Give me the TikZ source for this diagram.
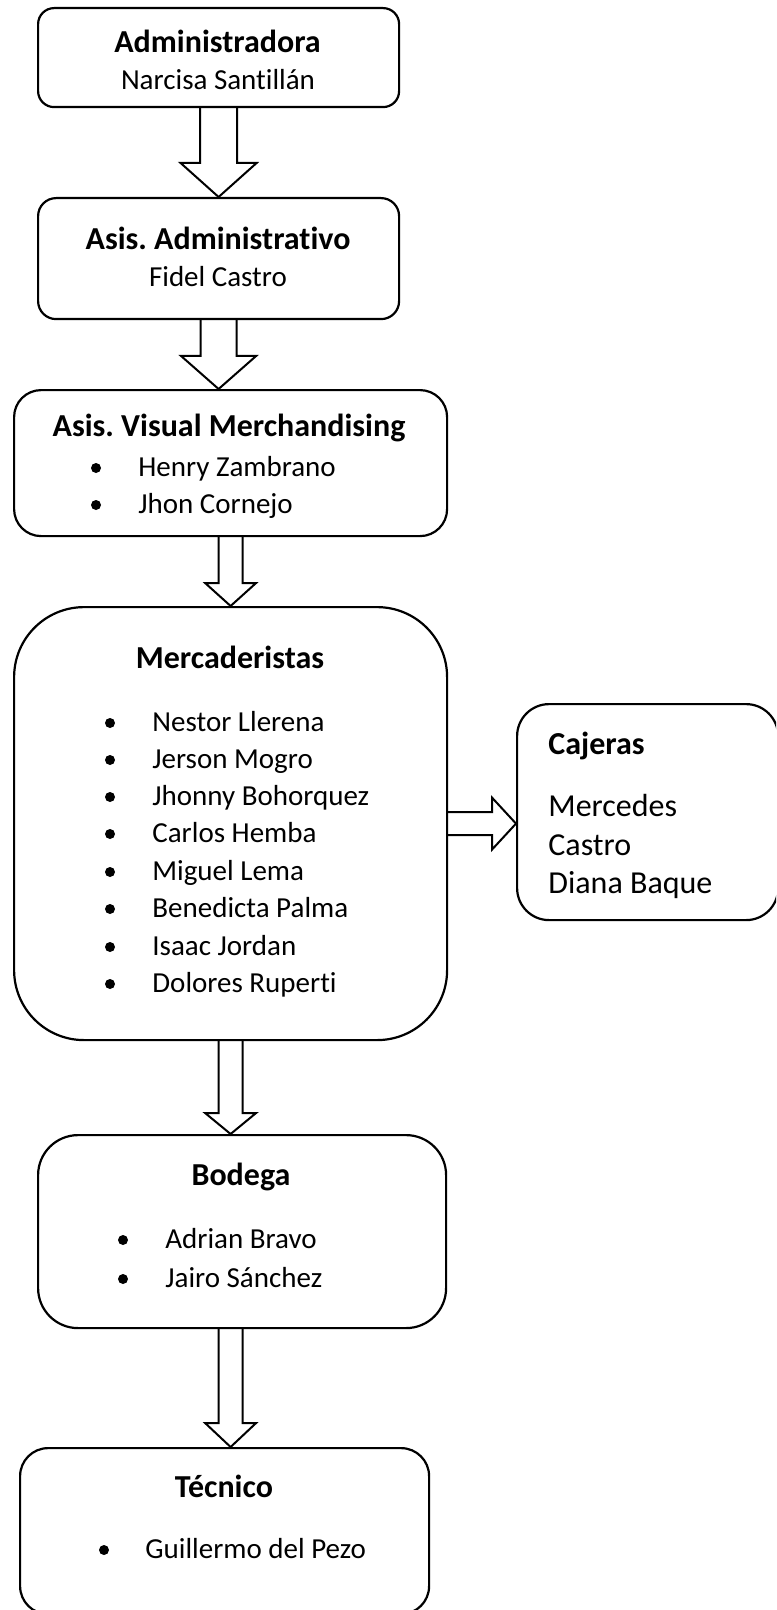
\documentclass[tikz,border=0pt]{standalone}
\usepackage{fontspec}
\setmainfont{Carlito}[Ligatures=NoCommon]
\usetikzlibrary{calc}
\frenchspacing

% flecha hueca hacia abajo: inicio, destino, medio ancho tallo, medio ancho punta, largo punta
\newcommand{\flechaAbajo}[5]{%
  \draw[flecha] let \p1=(#1), \p2=(#2) in
    (\x1-#3,\y1) -- (\x1-#3,\y2+#5) -- (\x1-#4,\y2+#5) -- (\x1,\y2)
    -- (\x1+#4,\y2+#5) -- (\x1+#3,\y2+#5) -- (\x1+#3,\y1);}
% flecha hueca hacia la derecha
\newcommand{\flechaDerecha}[5]{%
  \draw[flecha] let \p1=(#1), \p2=(#2) in
    (\x1,\y1+#3) -- (\x2-#5,\y1+#3) -- (\x2-#5,\y1+#4) -- (\x2,\y1)
    -- (\x2-#5,\y1-#4) -- (\x2-#5,\y1-#3) -- (\x1,\y1-#3);}

\begin{document}
\begin{tikzpicture}[x=0.5pt, y=-0.5pt,
    caja/.style={draw, line width=1.1pt, anchor=north west, inner sep=0pt},
    flecha/.style={line width=1pt, line join=miter},
    texto/.style={anchor=base, inner sep=0pt, font=\fontsize{14.5}{17}\selectfont},
    item/.style={texto, anchor=base west},
    titulo/.style={texto, font=\bfseries\fontsize{16}{19}\selectfont},
    grande/.style={anchor=base west, inner sep=0pt, font=\fontsize{16}{19}\selectfont},
    punto/.style={fill=black}]
        \useasboundingbox (0,0) rectangle (776,1610);
        \clip (0,0) rectangle (776,1610);

        % Cajas
        \node[caja, minimum width=180.5pt, minimum height=49.5pt, rounded corners=8pt] (adm) at (37,7) {};
        \node[caja, minimum width=180.5pt, minimum height=60.5pt, rounded corners=9pt] (asi) at (37,197) {};
        \node[caja, minimum width=216.5pt, minimum height=73pt, rounded corners=13.5pt] (vis) at (13,389) {};
        \node[caja, minimum width=216.5pt, minimum height=216.5pt, rounded corners=35pt] (mer) at (13,606) {};
        \node[caja, minimum width=130.5pt, minimum height=108pt, rounded corners=16pt] (caj) at (516,703) {};
        \node[caja, minimum width=204pt, minimum height=96.5pt, rounded corners=20pt] (bod) at (37,1134) {};
        \node[caja, minimum width=204.5pt, minimum height=83pt, rounded corners=14pt] (tec) at (19,1447) {};

        % Flechas
        \flechaAbajo{adm.south}{asi.north}{9.25pt}{19pt}{17pt}
        \flechaAbajo{asi.south}{vis.north}{9pt}{18.75pt}{16.5pt}
        \flechaAbajo{vis.south}{mer.north}{6pt}{12.75pt}{11.5pt}
        \flechaAbajo{mer.south}{bod.north}{6pt}{12.75pt}{10.5pt}
        \flechaAbajo{bod.south -| mer.south}{tec.north}{6pt}{12.75pt}{12pt}
        \flechaDerecha{mer.east}{caj.west}{5.75pt}{13pt}{12pt}

        % Administradora
        \node[titulo] (admT) at (217.5,53) {Administradora};
        \node[texto] (admN) at (218,90) {Narcisa Santillán};

        % Asistente administrativo
        \node[titulo] (asiT) at (218,250) {Asis. Administrativo};
        \node[texto] (asiN) at (218,287) {Fidel Castro};

        % Visual merchandising
        \node[titulo] (visT) at (229,437) {Asis. Visual Merchandising};
        \fill[punto] (96,468) circle (2.5pt);
        \fill[punto] (96,505) circle (2.5pt);
        \node[item] (vis1) at (138,476) {Henry Zambrano};
        \node[item] (vis2) at (138,513) {Jhon Cornejo};

        % Mercaderistas
        \node[titulo] (merT) at (230,668) {Mercaderistas};
        \fill[punto] (110,723) circle (2.5pt);
        \fill[punto] (110,760) circle (2.5pt);
        \fill[punto] (110,797) circle (2.5pt);
        \fill[punto] (110,834) circle (2.5pt);
        \fill[punto] (110,872) circle (2.5pt);
        \fill[punto] (110,909) circle (2.5pt);
        \fill[punto] (110,947) circle (2.5pt);
        \fill[punto] (110,984) circle (2.5pt);
        \node[item] (mer1) at (152,731) {Nestor Llerena};
        \node[item] (mer2) at (152,768) {Jerson Mogro};
        \node[item] (mer3) at (152,805) {Jhonny Bohorquez};
        \node[item] (mer4) at (152,842) {Carlos Hemba};
        \node[item] (mer5) at (152,880) {Miguel Lema};
        \node[item] (mer6) at (152,917) {Benedicta Palma};
        \node[item] (mer7) at (152,955) {Isaac Jordan};
        \node[item] (mer8) at (152,992) {Dolores Ruperti};

        % Cajeras
        \node[grande, font=\bfseries\fontsize{16}{19}\selectfont] (cajT) at (548,754) {Cajeras};
        \node[grande] (caj1) at (548,816) {Mercedes};
        \node[grande] (caj2) at (548,855) {Castro};
        \node[grande] (caj3) at (548,893) {Diana Baque};

        % Bodega
        \node[titulo] (bodT) at (241,1185) {Bodega};
        \fill[punto] (123,1240) circle (2.5pt);
        \fill[punto] (123,1279) circle (2.5pt);
        \node[item] (bod1) at (165,1248) {Adrian Bravo};
        \node[item] (bod2) at (165,1287) {Jairo Sánchez};

        % Técnico
        \node[titulo] (tecT) at (224,1497) {Técnico};
        \fill[punto] (104,1550) circle (2.5pt);
        \node[item] (tec1) at (145,1558) {Guillermo del Pezo};
    \end{tikzpicture}
\end{document}
